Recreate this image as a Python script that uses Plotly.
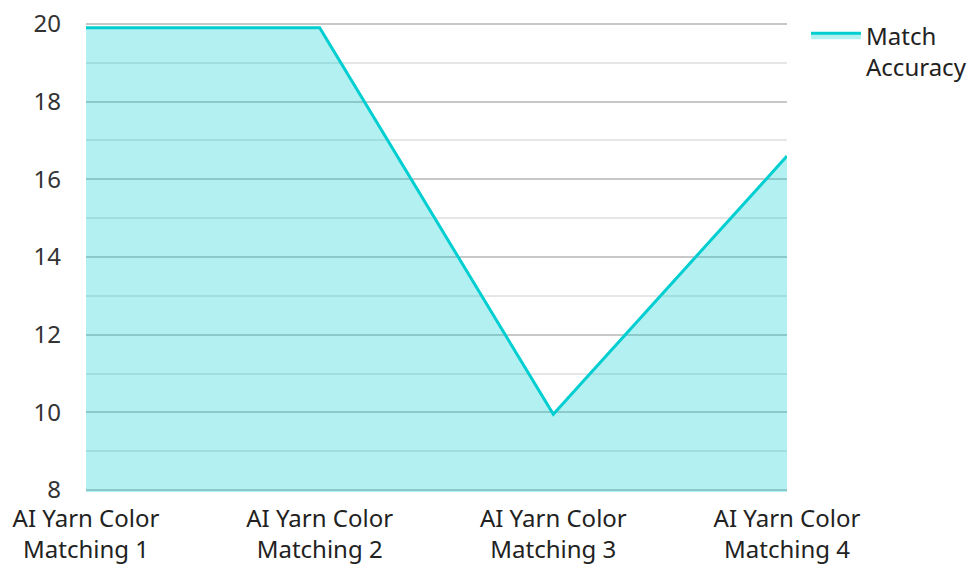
import plotly.graph_objects as go

categories = ["AI Yarn Color<br>Matching 1", "AI Yarn Color<br>Matching 2",
              "AI Yarn Color<br>Matching 3", "AI Yarn Color<br>Matching 4"]
match_accuracy = [19.9, 19.9, 9.95, 16.6]
y_ticks = [8, 10, 12, 14, 16, 18, 20]

fig = go.Figure()
fig.add_trace(go.Scatter(
    x=categories, y=match_accuracy, name="Match<br>Accuracy",
    mode="lines", fill="tozeroy",
    line=dict(color="#00CED1", width=3),
    fillcolor="rgba(0,206,209,0.3)",
))

fig.update_layout(
    width=977, height=564,
    margin=dict(l=78, r=198, t=14, b=80),
    paper_bgcolor="white", plot_bgcolor="white",
    font=dict(family="Noto Sans", size=24, color="#333333"),
    showlegend=True,
    legend=dict(xref="container", yref="container",
                x=0.8168, y=0.991, xanchor="left", yanchor="top",
                valign="top", itemwidth=50,
                font=dict(size=24, color="#222222"), tracegroupgap=0),
    xaxis=dict(range=[0, 3], showgrid=False, zeroline=False, showline=False,
               ticks="", automargin=False, ticklabelstandoff=10,
               ticklabeloverflow="allow",
               tickfont=dict(size=24, color="#222222")),
    yaxis=dict(range=[7.95, 20.05], tickvals=y_ticks, showgrid=True,
               gridcolor="#c8c8c8", gridwidth=2, zeroline=False, showline=False,
               ticks="", automargin=False, ticklabelstandoff=24,
               ticklabeloverflow="allow",
               tickfont=dict(size=24, color="#333333"),
               minor=dict(dtick=1, showgrid=True, gridcolor="#e6e6e6", gridwidth=2)),
)

fig.write_html("out.html")
